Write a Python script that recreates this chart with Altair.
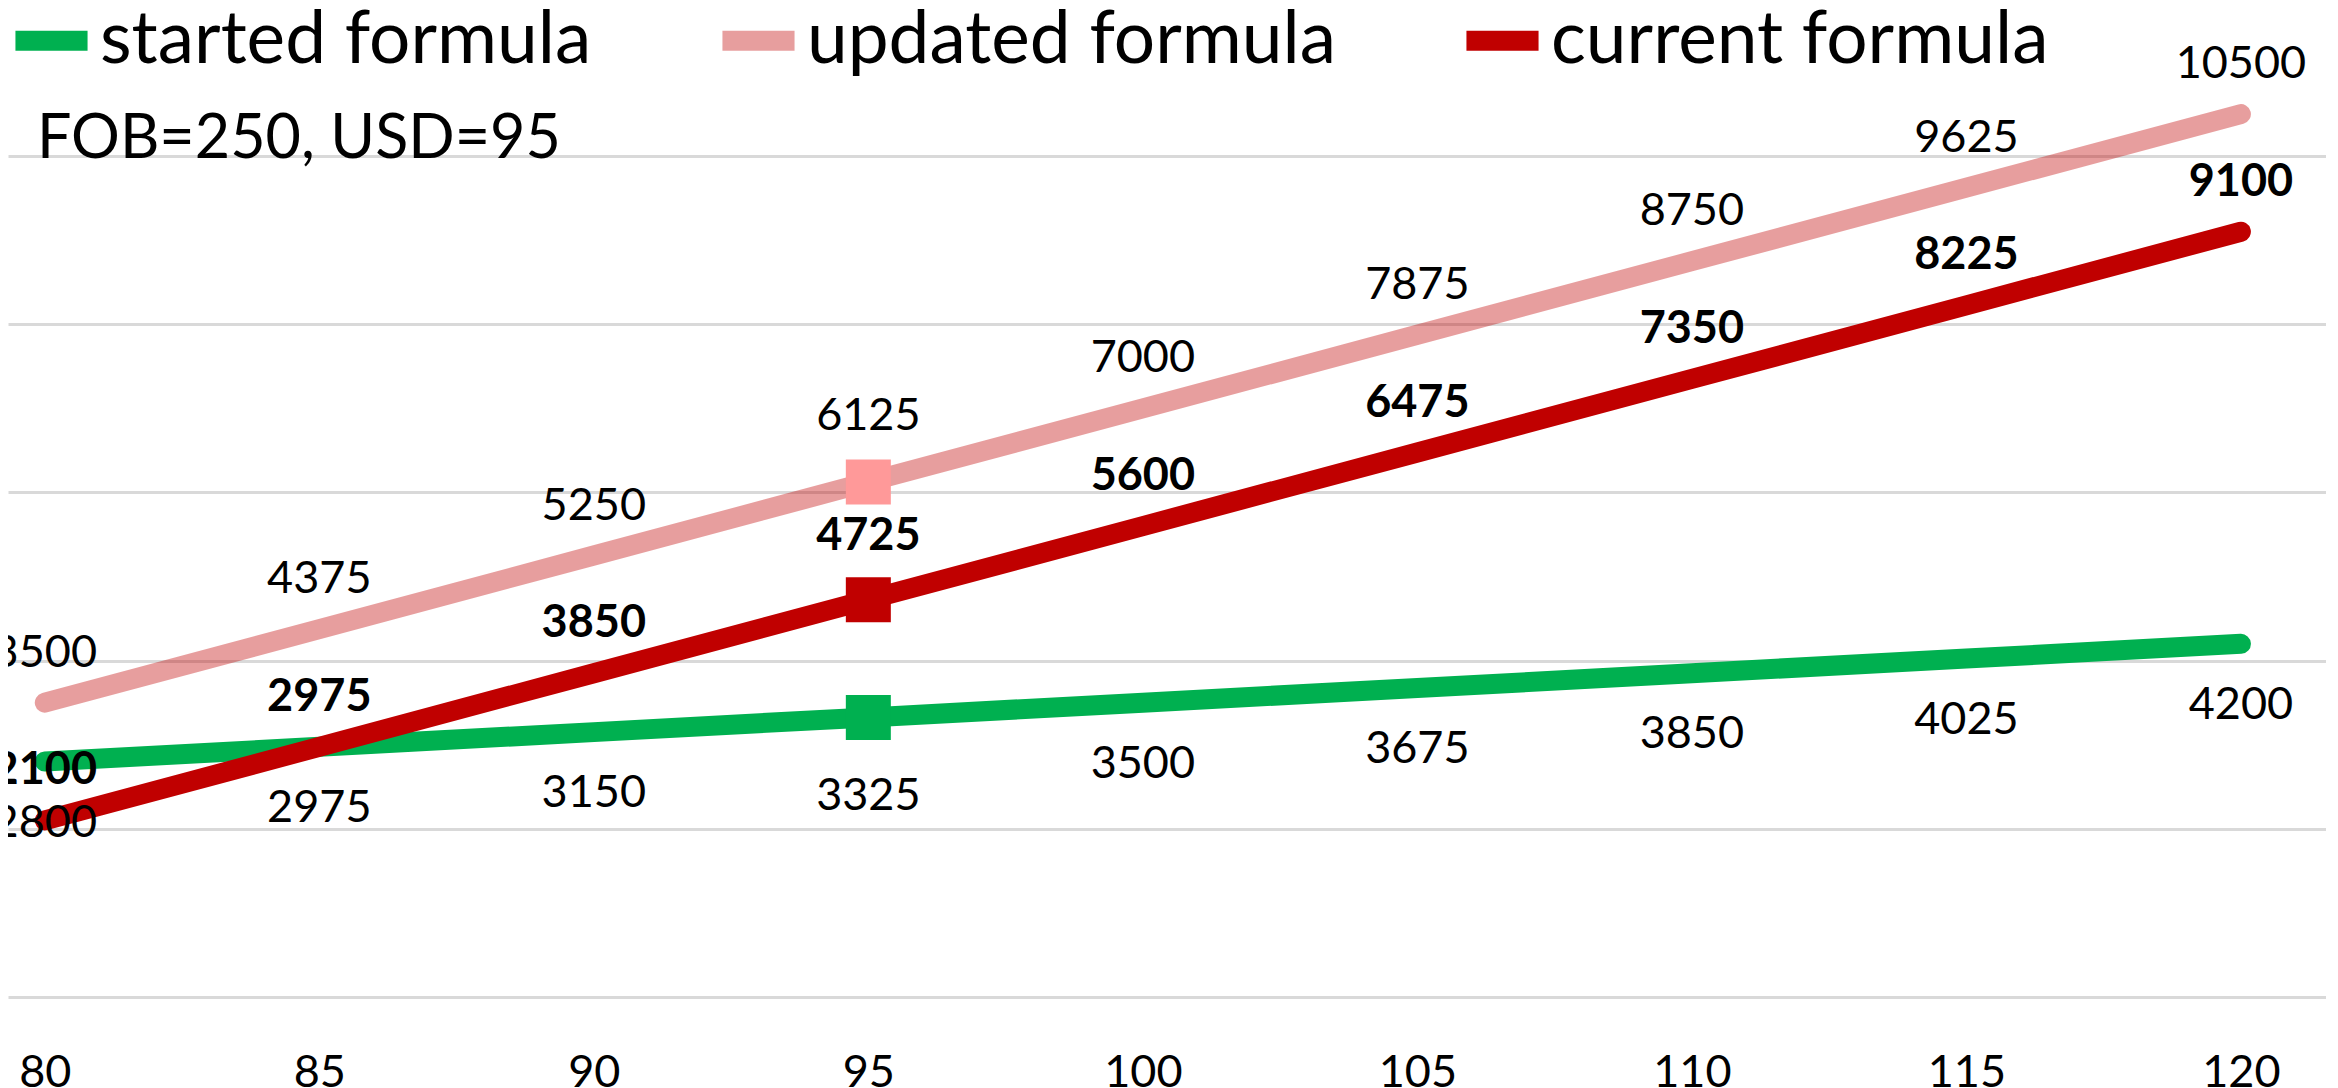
import altair as alt
import pandas as pd

# ---- data ----
x_values = [80, 85, 90, 95, 100, 105, 110, 115, 120]
started_formula = [2800, 2975, 3150, 3325, 3500, 3675, 3850, 4025, 4200]
updated_formula = [3500, 4375, 5250, 6125, 7000, 7875, 8750, 9625, 10500]
current_formula = [2100, 2975, 3850, 4725, 5600, 6475, 7350, 8225, 9100]
series_names = ["started formula", "updated formula", "current formula"]
line_colors = ["#00B050", "rgba(192,0,0,0.38)", "#C00000"]
marker_colors = ["#00B050", "#FF9999", "#C00000"]
marker_x = 95
note_text = ["FOB=250, USD=95"]
x_ticks = [80, 85, 90, 95, 100, 105, 110, 115, 120]
y_grid = [0, 2000, 4000, 6000, 8000, 10000]

rows = []
for name, vals in zip(series_names, [started_formula, updated_formula, current_formula]):
    for xv, yv in zip(x_values, vals):
        rows.append({"series": name, "x": xv, "y": yv})
df = pd.DataFrame(rows)

FONT = "Lato"
W, H = 2318, 989

xs = alt.X("x:Q", scale=alt.Scale(domain=[79.33, 121.55], nice=False, zero=False),
           axis=alt.Axis(values=x_ticks, grid=False, domain=False, ticks=False,
                         labelFontSize=45, labelFont=FONT, labelColor="#000000",
                         labelPadding=75, labelBaseline="middle", title=None,
                         labelFlush=False, labelOverlap=False))
ys = alt.Y("y:Q", scale=alt.Scale(domain=[0, 11761], nice=False, zero=False),
           axis=alt.Axis(values=y_grid, grid=True, gridColor="#D9D9D9", gridWidth=3,
                         labels=False, ticks=False, domain=False, title=None))

base = alt.Chart(df)

lines = base.mark_line(strokeWidth=20, strokeCap="round", strokeJoin="round").encode(
    x=xs, y=ys,
    color=alt.Color("series:N",
                    scale=alt.Scale(domain=series_names, range=line_colors),
                    sort=series_names,
                    legend=alt.Legend(title=None, orient="none", legendX=-3, legendY=-14,
                                      direction="horizontal", columns=3,
                                      symbolType="stroke", symbolStrokeWidth=20,
                                      symbolSize=5200, labelFontSize=73, labelFont=FONT,
                                      labelColor="#000000", labelLimit=2000,
                                      labelOffset=2, columnPadding=90, padding=0)),
    order=alt.Order("x:Q"),
)

markers = base.transform_filter(alt.datum.x == marker_x).mark_point(
    shape="square", filled=True, size=2025, opacity=1
).encode(
    x="x:Q", y="y:Q",
    color=alt.Color("series:N", scale=alt.Scale(domain=series_names, range=marker_colors),
                    legend=None),
)


def labels(name, dy, dy_marker, bold=False):
    common = dict(fontSize=45, font=FONT, color="#000000", baseline="middle",
                  fontWeight="bold" if bold else "normal")
    a = base.transform_filter(
        (alt.datum.series == name) & (alt.datum.x != marker_x)
    ).mark_text(dy=dy, **common).encode(x="x:Q", y="y:Q", text=alt.Text("y:Q", format="d"))
    b = base.transform_filter(
        (alt.datum.series == name) & (alt.datum.x == marker_x)
    ).mark_text(dy=dy_marker, **common).encode(x="x:Q", y="y:Q", text=alt.Text("y:Q", format="d"))
    return [a, b]


text_layers = (labels("started formula", 61, 79)
               + labels("updated formula", -50, -66)
               + labels("current formula", -50, -64, bold=True))

note = alt.Chart(pd.DataFrame({"t": note_text})).mark_text(
    align="left", baseline="middle", fontSize=61, font=FONT, color="#000000"
).encode(x=alt.value(29), y=alt.value(132), text="t:N")

chart = alt.layer(lines, markers, *text_layers, note).resolve_scale(color="independent").properties(
    width=W, height=H,
    autosize=alt.AutoSizeParams(type="none"),
    padding={"left": 0, "top": 0, "right": 0, "bottom": 100},
    background="white",
).configure_view(stroke=None)

chart.save("out.html", embed_options={"renderer": "svg", "actions": False})
